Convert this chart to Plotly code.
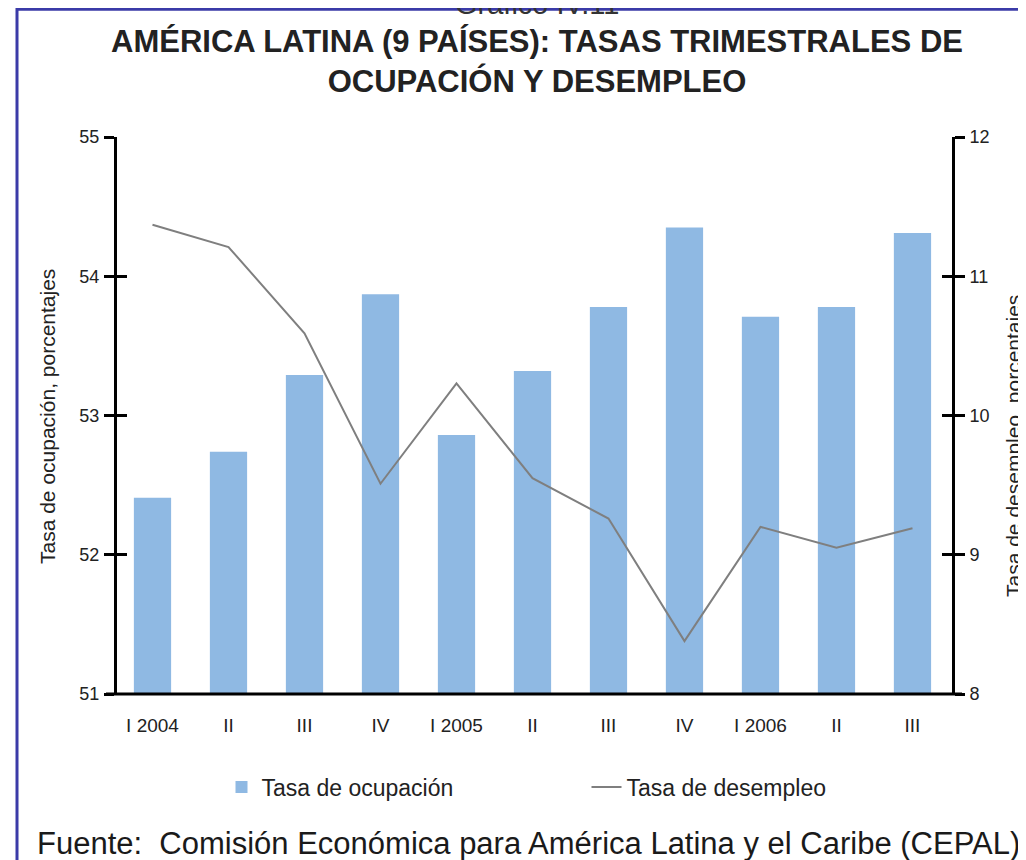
import plotly.graph_objects as go

categories = ["I 2004", "II", "III", "IV", "I 2005", "II", "III", "IV", "I 2006", "II", "III"]
ocupacion = [52.41, 52.74, 53.29, 53.87, 52.86, 53.32, 53.78, 54.35, 53.71, 53.78, 54.31]
desempleo = [11.37, 11.21, 10.59, 9.51, 10.23, 9.55, 9.26, 8.38, 9.20, 9.05, 9.19]
left_ticks = [51, 52, 53, 54, 55]
right_ticks = [8, 9, 10, 11, 12]

x_idx = list(range(len(categories)))

# page has an 8px body margin; all layout positions below are in page pixels
OFF = 8
W, H = 1018, 852
L, R, T, B = 109, 74, 129, 166
pw = W - L - R
ph = H - T - B


def fx(page_x):
    return (page_x - OFF - L) / pw


def fy(page_y):
    return (H - B - (page_y - OFF)) / ph


FONT = "Liberation Sans, Arial, sans-serif"
INK = "#222222"

fig = go.Figure()
fig.add_trace(go.Bar(
    x=x_idx, y=ocupacion, name="Tasa de ocupación",
    marker=dict(color="#8fb9e3", line=dict(width=0)),
    yaxis="y", xaxis="x",
))
fig.add_trace(go.Scatter(
    x=x_idx, y=desempleo, name="Tasa de desempleo", mode="lines",
    line=dict(color="#7f7f7f", width=2), yaxis="y2", xaxis="x",
))
# invisible traces carrying the inward half of the crossing ticks
fig.add_trace(go.Scatter(x=[0], y=[left_ticks[0]], yaxis="y3", mode="markers",
                         marker=dict(opacity=0), showlegend=False, hoverinfo="skip"))
fig.add_trace(go.Scatter(x=[0], y=[right_ticks[0]], yaxis="y4", mode="markers",
                         marker=dict(opacity=0), showlegend=False, hoverinfo="skip"))

ytickfont = dict(family=FONT, size=18, color=INK)
xtickfont = dict(family=FONT, size=19, color=INK)
TL = 10

fig.update_layout(
    width=W, height=H,
    margin=dict(l=L, r=R, t=T, b=B, autoexpand=False),
    paper_bgcolor="white", plot_bgcolor="white",
    bargap=0.51,
    showlegend=True,
    legend=dict(orientation="h", x=fx(221.5), xanchor="left",
                y=fy(787), yanchor="middle",
                font=dict(family=FONT, size=23, color=INK),
                entrywidth=320, itemwidth=30, traceorder="normal",
                bgcolor="rgba(0,0,0,0)"),
    xaxis=dict(
        range=[-0.467, 10.52], tickmode="array", tickvals=x_idx, ticktext=categories,
        showgrid=False, zeroline=False, showline=False, ticks="",
        ticklabelstandoff=18,
        tickfont=xtickfont, fixedrange=True,
    ),
    yaxis=dict(
        range=[left_ticks[0], left_ticks[-1]], tickmode="array", tickvals=left_ticks,
        showgrid=False, zeroline=False, showline=True, linecolor="black", linewidth=3,
        ticks="outside", ticklen=TL, tickwidth=3, tickcolor="black",
        ticklabelstandoff=1,
        tickfont=ytickfont,
    ),
    yaxis2=dict(
        range=[right_ticks[0], right_ticks[-1]], tickmode="array", tickvals=right_ticks,
        overlaying="y", side="right", anchor="x",
        showgrid=False, zeroline=False, showline=True, linecolor="black", linewidth=3,
        ticks="outside", ticklen=TL, tickwidth=3, tickcolor="black",
        ticklabelstandoff=1,
        tickfont=ytickfont,
    ),
    yaxis3=dict(
        range=[left_ticks[0], left_ticks[-1]], tickmode="array", tickvals=left_ticks,
        overlaying="y", side="left", anchor="x",
        showgrid=False, zeroline=False, showline=False,
        ticks="inside", ticklen=TL, tickwidth=3, tickcolor="black",
        showticklabels=False,
    ),
    yaxis4=dict(
        range=[right_ticks[0], right_ticks[-1]], tickmode="array", tickvals=right_ticks,
        overlaying="y", side="right", anchor="x",
        showgrid=False, zeroline=False, showline=False,
        ticks="inside", ticklen=TL, tickwidth=3, tickcolor="black",
        showticklabels=False,
    ),
    title=dict(
        text="<b>AMÉRICA LATINA (9 PAÍSES): TASAS TRIMESTRALES DE<br>OCUPACIÓN Y DESEMPLEO</b>",
        x=(537 - OFF) / W, xanchor="center", y=1 - 43.5 / H, yanchor="middle",
        font=dict(family=FONT, size=31, color=INK),
    ),
)

# axis titles
fig.add_annotation(text="Tasa de ocupación, porcentajes", textangle=-90,
                   xref="paper", yref="paper", x=fx(47), y=fy(417),
                   xanchor="center", yanchor="middle", showarrow=False,
                   font=dict(family=FONT, size=21, color=INK))
fig.add_annotation(text="Tasa de desempleo, porcentajes", textangle=-90,
                   xref="paper", yref="paper", x=fx(1013), y=fy(446),
                   xanchor="center", yanchor="middle", showarrow=False,
                   font=dict(family=FONT, size=21, color=INK))

# baseline extending slightly beyond both axes
fig.add_shape(type="line", xref="paper", yref="paper",
              x0=fx(106), x1=fx(962), y0=0, y1=0,
              line=dict(color="black", width=3))

# frame (left and top edges visible)
xb, yb = fx(17), fy(OFF + 1.3)
fig.add_shape(type="path", xref="paper", yref="paper",
              path=f"M {xb},{fy(900)} L {xb},{yb} L {fx(1060)},{yb}",
              line=dict(color="#3b3ba8", width=3))

# partially visible chart number at top
fig.add_annotation(text="Gráfico IV.11", xref="paper", yref="paper",
                   x=fx(537), y=fy(22), xanchor="center", yanchor="bottom",
                   showarrow=False, font=dict(family=FONT, size=29, color="#333333"))

# source note
fig.add_annotation(text="Fuente:\u00a0 Comisión Económica para América Latina y el Caribe (CEPAL)",
                   xref="paper", yref="paper",
                   x=fx(35), y=fy(844), xanchor="left", yanchor="middle",
                   showarrow=False, font=dict(family=FONT, size=31, color="#1a1a1a"))

fig.write_html("out.html")
